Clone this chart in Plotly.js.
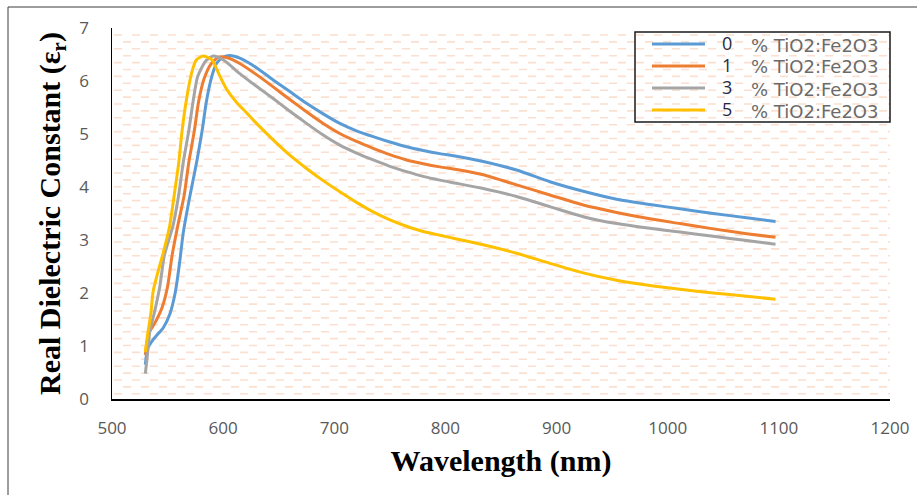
<!DOCTYPE html>
<html>
<head>
<meta charset="utf-8">
<script src="https://cdn.plot.ly/plotly-3.0.1.min.js"></script>
<style>html,body{margin:0;padding:0;background:#fff;}#chart{width:917px;height:495px;}</style>
</head>
<body>
<div id="chart"></div>
<script>
// ---- data ----
var seriesPercent = ['0', '1', '3', '5'];
var seriesSuffix = '% TiO2:Fe2O3';

var x0 = [530, 532, 537, 541, 546, 552, 557, 561, 564, 570, 576, 581, 585, 590, 594, 600, 606, 615, 630, 645, 660, 675, 690, 705, 720, 735, 750, 765, 780, 795, 810, 834, 864, 894, 924, 954, 984, 1011, 1041, 1071, 1097];
var y0 = [0.65, 0.95, 1.12, 1.22, 1.34, 1.60, 2.02, 2.60, 3.12, 3.82, 4.45, 5.05, 5.62, 6.10, 6.33, 6.45, 6.48, 6.43, 6.25, 6.02, 5.80, 5.58, 5.38, 5.20, 5.06, 4.95, 4.85, 4.76, 4.69, 4.63, 4.58, 4.48, 4.32, 4.10, 3.92, 3.77, 3.67, 3.59, 3.50, 3.42, 3.35];

var x1 = [530, 533, 539, 545, 550, 554, 559, 565, 569, 574, 578, 583, 589, 596, 604, 615, 630, 645, 660, 675, 690, 705, 720, 735, 750, 765, 780, 795, 810, 834, 864, 894, 924, 954, 984, 1011, 1041, 1071, 1097];
var y1 = [0.83, 1.24, 1.45, 1.72, 2.12, 2.70, 3.25, 3.85, 4.45, 5.05, 5.62, 6.05, 6.32, 6.45, 6.44, 6.33, 6.12, 5.89, 5.65, 5.42, 5.20, 5.01, 4.86, 4.73, 4.61, 4.51, 4.44, 4.38, 4.33, 4.23, 4.04, 3.85, 3.66, 3.52, 3.40, 3.31, 3.21, 3.12, 3.05];

var x3 = [530, 532, 534, 538, 543, 547, 555, 560, 564, 569, 573, 577, 584, 591, 600, 615, 630, 645, 660, 675, 690, 705, 720, 735, 750, 765, 780, 795, 810, 834, 864, 894, 924, 954, 984, 1011, 1041, 1071, 1097];
var y3 = [0.48, 0.86, 1.28, 1.62, 2.12, 2.70, 3.28, 3.85, 4.45, 5.05, 5.62, 6.08, 6.37, 6.47, 6.40, 6.14, 5.90, 5.67, 5.43, 5.20, 4.98, 4.79, 4.64, 4.51, 4.39, 4.29, 4.20, 4.13, 4.07, 3.97, 3.82, 3.63, 3.44, 3.31, 3.22, 3.15, 3.07, 2.99, 2.92];

var x5 = [530, 532, 535, 537, 541, 546, 552, 556, 560, 563, 567, 572, 576, 582, 590, 596, 603, 612, 622, 630, 645, 660, 675, 690, 705, 720, 735, 750, 765, 780, 795, 810, 834, 864, 894, 924, 954, 984, 1011, 1041, 1071, 1097];
var y5 = [0.89, 1.21, 1.62, 2.03, 2.37, 2.75, 3.28, 3.85, 4.45, 5.05, 5.65, 6.18, 6.40, 6.47, 6.40, 6.14, 5.85, 5.60, 5.38, 5.20, 4.89, 4.60, 4.35, 4.12, 3.91, 3.71, 3.53, 3.38, 3.26, 3.16, 3.09, 3.02, 2.91, 2.75, 2.56, 2.38, 2.24, 2.14, 2.07, 2.00, 1.94, 1.88];

var xTicks = [500, 600, 700, 800, 900, 1000, 1100, 1200];
var yTicks = [0, 1, 2, 3, 4, 5, 6, 7];

// ---- styling / layout ----
var colors = ['#5B9BD5', '#ED7D31', '#A5A5A5', '#FFC000'];
var W = 917, H = 495;
var M = {l: 112, r: 27, t: 28, b: 96};
var PW = W - M.l - M.r, PH = H - M.t - M.b;
function px(x) { return (x - M.l) / PW; }
function py(y) { return (H - M.b - y) / PH; }

var xs = [x0, x1, x3, x5], ys = [y0, y1, y3, y5];
var traces = xs.map(function (xx, i) {
  return {
    x: xx, y: ys[i], type: 'scatter', mode: 'lines',
    name: seriesPercent[i] + ' ' + seriesSuffix,
    line: {color: colors[i], width: 3, shape: 'spline', smoothing: 0.6},
    hoverinfo: 'skip', showlegend: false
  };
});

var shapes = [];
var annotations = [];
// background dashed pattern
var rowTop = 35, rowStep = 6.9, row = 0;
for (var yy = rowTop; yy <= 396; yy += rowStep, row++) {
  shapes.push({
    type: 'line', xref: 'paper', yref: 'paper', layer: 'below',
    x0: px(114), x1: px(890), y0: py(yy), y1: py(yy),
    line: {color: '#FCE0CF', width: 1.6, dash: (row % 2 === 0) ? '8px,10px' : '0px,9px,8px,1px'}
  });
}
// outer frame
shapes.push({type: 'rect', xref: 'paper', yref: 'paper', layer: 'above',
  x0: px(8), x1: px(W + 20), y0: py(7), y1: py(H + 20),
  line: {color: '#3a3a3a', width: 1}});
// legend box
shapes.push({type: 'rect', xref: 'paper', yref: 'paper', layer: 'above',
  x0: px(635), x1: px(890), y0: py(122), y1: py(32),
  line: {color: '#1a1a1a', width: 1.5}});
var rowsY = [44, 66, 88, 110];
for (var i = 0; i < 4; i++) {
  shapes.push({type: 'line', xref: 'paper', yref: 'paper', layer: 'above',
    x0: px(652), x1: px(705), y0: py(rowsY[i]), y1: py(rowsY[i]),
    line: {color: colors[i], width: 3}});
  annotations.push({xref: 'paper', yref: 'paper', x: px(727), y: py(rowsY[i] - 1),
    xanchor: 'center', yanchor: 'middle', showarrow: false,
    text: seriesPercent[i], font: {family: 'Open Sans', size: 18, color: '#1F2A44'}});
  annotations.push({xref: 'paper', yref: 'paper', x: px(749), y: py(rowsY[i] + 1),
    xanchor: 'left', yanchor: 'middle', showarrow: false,
    text: seriesSuffix, font: {family: 'DejaVu Sans', size: 18, color: '#6b6b6b'}});
}

var layout = {
  width: W, height: H,
  margin: M,
  paper_bgcolor: '#ffffff', plot_bgcolor: 'rgba(0,0,0,0)',
  showlegend: false,
  xaxis: {
    range: [500, 1200], tickvals: xTicks, ticktext: xTicks.map(String),
    showgrid: false, zeroline: false, showline: true, linecolor: '#000', linewidth: 1.5,
    ticks: '', ticklabelstandoff: 13,
    tickfont: {family: 'Open Sans', size: 17, color: '#595959'},
    title: {text: 'Wavelength (nm)', standoff: 12,
      font: {family: 'Liberation Serif', size: 30, color: '#000', weight: 'bold'}}
  },
  yaxis: {
    range: [0, 7], tickvals: yTicks, ticktext: yTicks.map(String),
    showgrid: false, zeroline: false, showline: true, linecolor: '#000', linewidth: 1.5,
    ticks: '', ticklabelstandoff: 18,
    tickfont: {family: 'Open Sans', size: 17, color: '#595959'},
    title: {text: 'Real Dielectric Constant (ε<sub>r</sub>)', standoff: 10,
      font: {family: 'Liberation Serif', size: 30, color: '#000', weight: 'bold'}}
  },
  shapes: shapes,
  annotations: annotations
};

Plotly.newPlot('chart', traces, layout, {staticPlot: true, displayModeBar: false});
</script>
</body>
</html>
